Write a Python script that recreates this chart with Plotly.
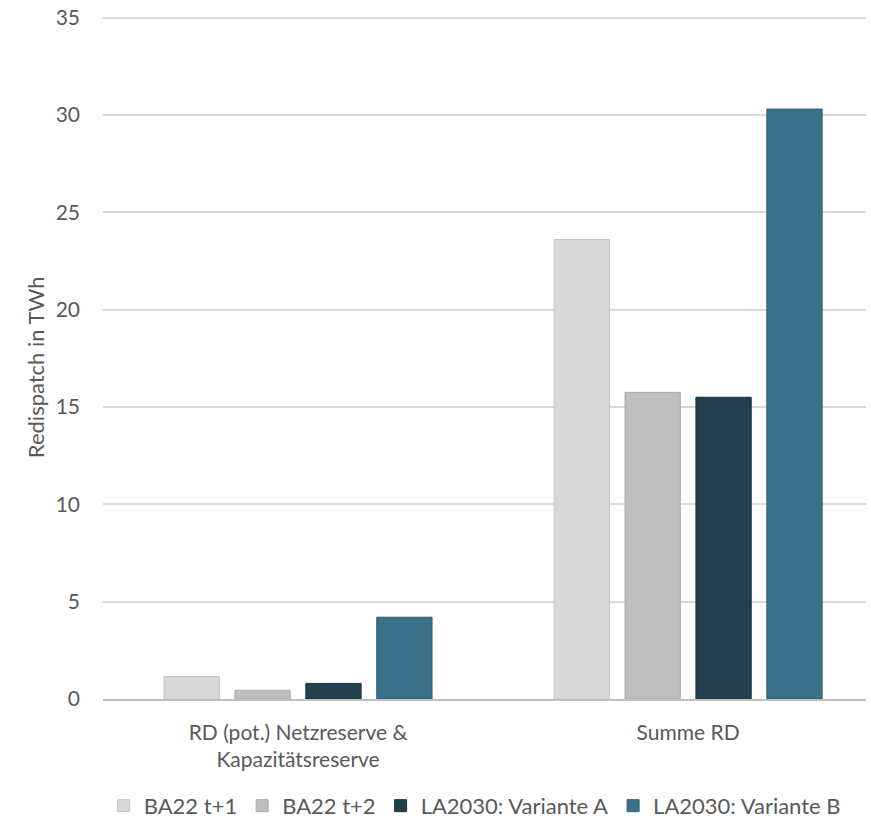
import plotly.graph_objects as go

categories = ["RD (pot.) Netzreserve &<br>Kapazitätsreserve", "Summe RD"]
series_names = ["BA22 t+1", "BA22 t+2", "LA2030: Variante A", "LA2030: Variante B"]
values_ba22_t1 = [1.15, 23.6]
values_ba22_t2 = [0.45, 15.75]
values_la_a = [0.8, 15.5]
values_la_b = [4.2, 30.3]
y_ticks = [0, 5, 10, 15, 20, 25, 30, 35]
y_title = "Redispatch in TWh"

colors = ["#d9d9d9", "#bfbfbf", "#213f4c", "#3a7189"]
borders = ["#c4c4c4", "#aaaaaa", "#1a333d", "#335f73"]

fig = go.Figure()
for name, vals, c, bc in zip(series_names,
                             [values_ba22_t1, values_ba22_t2, values_la_a, values_la_b],
                             colors, borders):
    fig.add_trace(go.Bar(name=name, x=categories, y=vals,
                         marker=dict(color=c, line=dict(color=bc, width=1))))

fig.update_layout(
    width=871, height=824,
    barmode="group", bargap=0.273, bargroupgap=0.22,
    plot_bgcolor="white", paper_bgcolor="white",
    font=dict(family="Lato, Open Sans, sans-serif", size=21, color="#595959"),
    margin=dict(l=103, r=5, t=16, b=125, autoexpand=False),
    yaxis=dict(range=[0, 35.08], tickvals=y_ticks, showgrid=True,
               gridcolor="#d9d9d9", gridwidth=1.5, zeroline=False,
               showline=False, ticks="", ticklabelstandoff=22, automargin=False,
               ticklabeloverflow="allow", tickfont=dict(size=21)),
    xaxis=dict(range=[-0.5, 1.456], showline=True, linecolor="#bfbfbf", linewidth=1.5,
               ticks="", ticklabelstandoff=14, automargin=False, tickfont=dict(size=21)),
    legend=dict(orientation="h", xref="container", yref="container",
                x=0.545, xanchor="center", y=0.022, yanchor="middle",
                font=dict(size=22), itemwidth=30, traceorder="normal"),
    annotations=[dict(text=y_title, xref="paper", yref="paper",
                      x=-0.089, y=0.486, xanchor="center", yanchor="middle",
                      textangle=-90, showarrow=False, font=dict(size=22))],
)

fig.write_html("out.html", config={"displayModeBar": False},
               post_script="document.body.style.margin='0';document.body.style.overflow='hidden';")
